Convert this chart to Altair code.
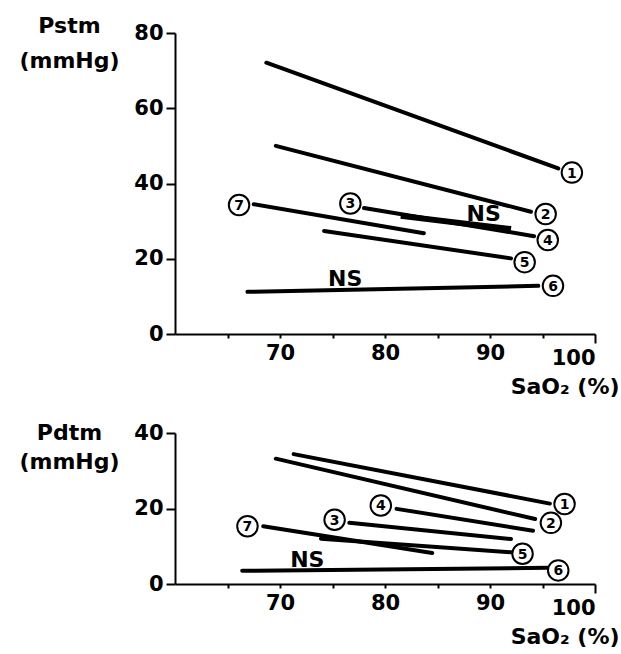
import altair as alt
import pandas as pd

FONT = "DejaVu Sans"

# ---------------- Top panel (Pstm) ----------------
top_x1 = [68.7, 69.6, 78.0, 74.2, 66.9, 67.5]
top_y1 = [72.1, 50.0, 33.5, 27.4, 11.2, 34.5]
top_x2 = [96.5, 93.9, 94.2, 92.0, 94.6, 83.7]
top_y2 = [44.0, 32.5, 26.0, 20.1, 12.8, 26.8]
# overlapping (thick) regression segment
top_thick_x1 = [81.5]
top_thick_y1 = [31.4]
top_thick_x2 = [92.0]
top_thick_y2 = [27.9]
top_lab = ["1", "2", "3", "4", "5", "6", "7"]
top_lab_x = [97.8, 95.3, 76.7, 95.5, 93.3, 96.0, 66.1]
top_lab_y = [42.9, 31.9, 34.7, 25.0, 19.1, 12.8, 34.3]
top_ns_x = [89.4, 76.2]
top_ns_y = [31.9, 14.7]

# ---------------- Bottom panel (Pdtm) ----------------
bot_x1 = [71.3, 69.6, 81.1, 76.6, 68.4, 73.9, 66.4]
bot_y1 = [34.4, 33.2, 19.9, 16.2, 15.3, 12.0, 3.5]
bot_x2 = [95.7, 94.3, 94.1, 92.0, 84.5, 92.0, 95.5]
bot_y2 = [21.3, 17.2, 14.1, 11.9, 8.2, 8.4, 4.3]
bot_lab = ["1", "2", "4", "3", "7", "5", "6"]
bot_lab_x = [97.1, 95.8, 79.6, 75.2, 66.9, 93.1, 96.5]
bot_lab_y = [21.2, 16.2, 20.8, 17.0, 15.3, 8.0, 3.6]
bot_ns_x = [72.6]
bot_ns_y = [6.4]

x_ticks = [65, 70, 75, 80, 85, 90, 95, 100]
top_y_ticks = [0, 10, 20, 30, 40, 50, 60, 70, 80]
bot_y_ticks = [0, 10, 20, 30, 40]


def panel(x1, y1, x2, y2, tx1, ty1, tx2, ty2, lab, lx, ly, nsx, nsy,
          ymax, yticks, ytitle, title_y, title_lh, h):
    xs = alt.Scale(domain=[60, 100], nice=False, zero=False)
    ys = alt.Scale(domain=[0, ymax], nice=False)
    x_axis = alt.Axis(
        values=x_ticks,
        labelExpr="datum.value % 10 === 0 ? datum.label : ''",
        tickSize={"condition": {"test": "datum.value === 100", "value": 9}, "value": 4},
        labelPadding=4,
        title="SaO\u2082 (%)",
        titleAlign="right", titleAnchor="end", titleX=444, titleY=59,
        titleBaseline="alphabetic", titleAngle=0,
        grid=False,
    )
    y_axis = alt.Axis(
        values=yticks,
        labelExpr="datum.value % 20 === 0 ? datum.label : ''",
        tickSize={"condition": {"test": "datum.value % 20 === 0", "value": 9}, "value": 4},
        labelPadding=3,
        title=ytitle,
        titleAngle=0, titleAlign="center", titleX=-106, titleY=title_y,
        titleBaseline="alphabetic", titleLineHeight=title_lh,
        grid=False,
    )
    lines = pd.DataFrame({"x1": x1, "y1": y1, "x2": x2, "y2": y2})
    thick = pd.DataFrame({"x1": tx1, "y1": ty1, "x2": tx2, "y2": ty2})
    labels = pd.DataFrame({"t": lab, "x": lx, "y": ly})
    ns = pd.DataFrame({"t": ["NS"] * len(nsx), "x": nsx, "y": nsy})

    base_lines = alt.Chart(lines).mark_rule(
        color="black", strokeWidth=4, strokeCap="round"
    ).encode(
        x=alt.X("x1:Q", scale=xs, axis=x_axis),
        y=alt.Y("y1:Q", scale=ys, axis=y_axis),
        x2="x2:Q", y2="y2:Q",
    )
    layers = [base_lines]
    if len(tx1):
        layers.append(
            alt.Chart(thick).mark_rule(color="black", strokeWidth=6, strokeCap="butt").encode(
                x=alt.X("x1:Q", scale=xs), y=alt.Y("y1:Q", scale=ys), x2="x2:Q", y2="y2:Q"
            )
        )
    layers.append(
        alt.Chart(labels).mark_point(
            shape="circle", size=420, filled=True, fill="white", stroke="black",
            strokeWidth=2, opacity=1
        ).encode(x=alt.X("x:Q", scale=xs), y=alt.Y("y:Q", scale=ys))
    )
    layers.append(
        alt.Chart(labels).mark_text(
            font=FONT, fontWeight="bold", fontSize=14, baseline="middle", align="center",
            dy=1, color="black"
        ).encode(x=alt.X("x:Q", scale=xs), y=alt.Y("y:Q", scale=ys), text="t:N")
    )
    layers.append(
        alt.Chart(ns).mark_text(
            font=FONT, fontWeight="bold", fontSize=22, baseline="middle", align="center",
            color="black"
        ).encode(x=alt.X("x:Q", scale=xs), y=alt.Y("y:Q", scale=ys), text="t:N")
    )
    return alt.layer(*layers).properties(width=420, height=h)


top = panel(top_x1, top_y1, top_x2, top_y2,
            top_thick_x1, top_thick_y1, top_thick_x2, top_thick_y2,
            top_lab, top_lab_x, top_lab_y, top_ns_x, top_ns_y,
            80, top_y_ticks, ["Pstm", "(mmHg)"], -1, 35, 301)
bottom = panel(bot_x1, bot_y1, bot_x2, bot_y2,
               [], [], [], [],
               bot_lab, bot_lab_x, bot_lab_y, bot_ns_x, bot_ns_y,
               40, bot_y_ticks, ["Pdtm", "(mmHg)"], 6, 29, 151)

chart = alt.vconcat(top, bottom, spacing=99, bounds="flush").properties(
    padding={"left": 18, "top": 14, "right": 2, "bottom": 2},
    background="white",
).configure_view(stroke=None).configure_axis(
    domainColor="black", domainWidth=2, tickColor="black", tickWidth=2,
    labelFont=FONT, labelFontWeight="bold", labelFontSize=21, labelColor="black",
    titleFont=FONT, titleFontWeight="bold", titleFontSize=22, titleColor="black",
)

chart.save("out.html", embed_options={"renderer": "svg", "actions": False})
